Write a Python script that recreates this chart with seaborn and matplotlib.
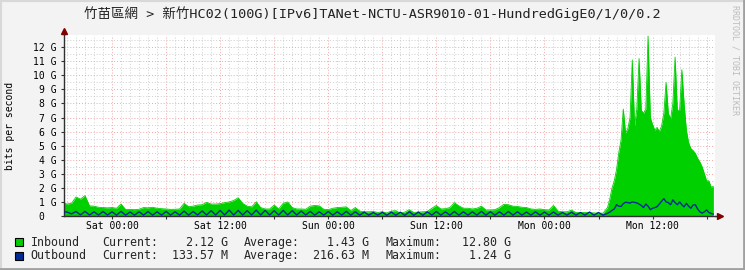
import numpy as np
import pandas as pd
import matplotlib
matplotlib.use("Agg")
import matplotlib.pyplot as plt
import seaborn as sns
from matplotlib.patches import Rectangle
from matplotlib.lines import Line2D
from matplotlib.ticker import MultipleLocator, FixedLocator, FixedFormatter

# ---------------- texts ----------------
title = "竹苗區網 > 新竹HC02(100G)[IPv6]TANet-NCTU-ASR9010-01-HundredGigE0/1/0/0.2"
y_label = "bits per second"
watermark = "RRDTOOL / TOBI OETIKER"
day_ticks = [0, 6, 12, 18, 24, 30, 36, 42, 48, 54, 60, 66]
day_labels = ["Sat 00:00", "", "Sat 12:00", "", "Sun 00:00", "", "Sun 12:00", "",
              "Mon 00:00", "", "Mon 12:00", ""]
y_ticks = [0, 1, 2, 3, 4, 5, 6, 7, 8, 9, 10, 11, 12]
y_labels = ["0  ", "1 G", "2 G", "3 G", "4 G", "5 G", "6 G", "7 G", "8 G", "9 G",
            "10 G", "11 G", "12 G"]

# ---------------- data (Gbit/s, hours relative to Sat 00:00) ----------------
start_flat = -5.5
step_flat = 0.5
inbound_flat = [
    0.95, 0.85, 0.9, 1.35, 1.2, 1.45, 0.72, 0.7, 0.62, 0.6, 0.58, 0.6,
    0.55, 0.85, 0.47, 0.47, 0.45, 0.48, 0.6, 0.58, 0.62, 0.55, 0.52, 0.5,
    0.47, 0.48, 0.5, 0.9, 0.66, 0.7, 0.78, 0.8, 0.97, 0.85, 0.85, 0.88,
    0.95, 1.0, 1.1, 1.3, 0.9, 0.7, 0.65, 1.0, 0.6, 0.5, 0.5, 0.78,
    0.5, 0.9, 1.0, 0.6, 0.5, 0.5, 0.48, 0.7, 0.75, 0.72, 0.48, 0.45,
    0.55, 0.6, 0.62, 0.65, 0.38, 0.6, 0.35, 0.3, 0.3, 0.32, 0.25, 0.3,
    0.22, 0.35, 0.38, 0.2, 0.28, 0.45, 0.25, 0.28, 0.3, 0.32, 0.55, 0.75,
    0.5, 0.52, 0.6, 0.95, 0.72, 0.55, 0.55, 0.5, 0.55, 0.7, 0.43, 0.43,
    0.45, 0.6, 0.83, 0.8, 0.7, 0.68, 0.62, 0.6, 0.5, 0.47, 0.5, 0.45,
    0.43, 0.75, 0.35, 0.3, 0.3, 0.42, 0.25, 0.24, 0.25, 0.23, 0.22, 0.2,
    0.2, 0.6,
]
outbound_flat = [
    0.30, 0.28, 0.15, 0.32, 0.08, 0.33, 0.07, 0.30, 0.07, 0.32, 0.07, 0.30,
    0.06, 0.33, 0.06, 0.28, 0.06, 0.30, 0.06, 0.32, 0.06, 0.30, 0.06, 0.33,
    0.06, 0.30, 0.06, 0.35, 0.06, 0.32, 0.07, 0.36, 0.07, 0.38, 0.07, 0.40,
    0.07, 0.42, 0.07, 0.40, 0.07, 0.38, 0.07, 0.42, 0.07, 0.40, 0.07, 0.38,
    0.07, 0.40, 0.07, 0.38, 0.07, 0.35, 0.07, 0.33, 0.06, 0.30, 0.06, 0.32,
    0.06, 0.30, 0.06, 0.33, 0.06, 0.30, 0.06, 0.28, 0.06, 0.25, 0.06, 0.27,
    0.05, 0.28, 0.05, 0.27, 0.05, 0.30, 0.05, 0.28, 0.05, 0.30, 0.06, 0.32,
    0.06, 0.30, 0.06, 0.32, 0.06, 0.30, 0.06, 0.30, 0.06, 0.33, 0.06, 0.30,
    0.06, 0.30, 0.06, 0.32, 0.06, 0.30, 0.06, 0.28, 0.06, 0.30, 0.06, 0.28,
    0.06, 0.28, 0.06, 0.25, 0.06, 0.27, 0.06, 0.25, 0.06, 0.28, 0.06, 0.25,
    0.06, 0.19,
]
start_peak = 55.25
step_peak = 0.25
inbound_peak = [
    1.2, 2.0, 2.5, 3.3, 4.5, 5.4, 7.6, 5.9, 6.2, 7.0, 11.1, 6.4,
    7.6, 11.2, 7.5, 7.3, 7.6, 12.8, 7.0, 6.5, 6.1, 6.3, 6.0, 6.4,
    7.3, 9.5, 7.3, 6.9, 8.0, 11.3, 7.5, 7.5, 10.4, 8.0, 6.1, 5.2,
    4.8, 4.65, 4.45, 4.1, 3.85, 3.5, 3.0, 2.5, 2.5, 2.05, 2.12,
]
outbound_peak = [
    0.28, 0.4, 0.5, 0.8, 0.7, 0.68, 0.88, 0.98, 0.95, 0.92, 1.0, 0.97,
    0.93, 0.85, 0.75, 0.6, 0.85, 0.7, 0.45, 0.55, 0.6, 0.66, 0.85, 1.05,
    1.24, 1.0, 0.95, 0.8, 1.15, 0.95, 0.8, 1.0, 0.8, 0.65, 0.9, 0.7,
    0.55, 0.78, 0.8, 0.5, 0.3, 0.2, 0.3, 0.43, 0.25, 0.18, 0.134,
]

legend_names = ["Inbound", "Outbound"]
legend_current = ["2.12 G", "133.57 M"]
legend_average = ["1.43 G", "216.63 M"]
legend_maximum = ["12.80 G", "1.24 G"]
series_colors = ["#00CF00", "#002A97"]

# ---------------- build frame ----------------
hours = np.concatenate([
    start_flat + step_flat * np.arange(len(inbound_flat)),
    start_peak + step_peak * np.arange(len(inbound_peak)),
])
df = pd.DataFrame({
    "hours": hours,
    "inbound": inbound_flat + inbound_peak,
    "outbound": outbound_flat + outbound_peak,
})

sns.set_theme(style="white")
plt.rcParams["font.family"] = ["DejaVu Sans Mono", "Noto Sans CJK TC"]

W, H = 745, 270
fig = plt.figure(figsize=(W / 100, H / 100), dpi=100, facecolor="#F3F3F3")
L, R, B, T = 64, 715, 216, 35
ax = fig.add_axes([L / W, 1 - B / H, (R - L) / W, (B - T) / H])
ax.set_facecolor("white")

green, blue = series_colors
ax.fill_between(df["hours"], 0, df["inbound"], color=green, lw=0, zorder=2)
sns.lineplot(data=df, x="hours", y="inbound", ax=ax, color=green, lw=0.6, zorder=2)
sns.lineplot(data=df, x="hours", y="outbound", ax=ax, color=blue, lw=1.0, zorder=3)

ax.set_xlim(-5.33, 66.93)
ax.set_ylim(0, 12.87)
ax.set_xlabel("")
ax.set_ylabel("")

ax.xaxis.set_major_locator(FixedLocator(day_ticks))
ax.xaxis.set_major_formatter(FixedFormatter(day_labels))
ax.xaxis.set_minor_locator(MultipleLocator(1))
ax.yaxis.set_major_locator(FixedLocator(y_ticks))
ax.yaxis.set_major_formatter(FixedFormatter(y_labels))
ax.yaxis.set_minor_locator(MultipleLocator(0.5))

ax.set_axisbelow(True)
ax.grid(which="minor", color="#CFCFCF", ls=(0, (1, 2)), lw=0.7)
ax.grid(which="major", color="#F2A6A6", ls=(0, (1, 2)), lw=0.7)

for s in ("top", "right"):
    ax.spines[s].set_visible(False)
for s in ("left", "bottom"):
    ax.spines[s].set_color("#303030")
    ax.spines[s].set_linewidth(1.0)

ax.tick_params(axis="both", which="major", length=2, width=0.8, color="#303030",
               labelsize=7, labelcolor="#000000")
ax.tick_params(axis="both", which="minor", length=0)
ax.tick_params(axis="x", pad=1.5)
ax.tick_params(axis="y", pad=3.3)
ax.tick_params(axis="x", which="major", bottom=True)
ax.tick_params(axis="y", which="major", left=True)

# axis arrows
ax.plot([1.0, 1.008], [0, 0], transform=ax.transAxes, color="#303030", lw=1.0, clip_on=False)
ax.plot([1.008], [0], transform=ax.transAxes, marker=">", ms=4.5, color="#800000",
        mec="#800000", clip_on=False)
ax.plot([0, 0], [1.0, 1.02], transform=ax.transAxes, color="#303030", lw=1.0, clip_on=False)
ax.plot([0], [1.02], transform=ax.transAxes, marker="^", ms=4.5, color="#800000",
        mec="#800000", clip_on=False)

# texts
fig.text(372 / W, 1 - 14 / H, title, ha="center", va="center", fontsize=9.7, color="#222222")
fig.text(10.5 / W, 1 - 126 / H, y_label, rotation=90, ha="center", va="center",
         fontsize=7, color="#000000")
fig.text(735.5 / W, 1 - 60 / H, watermark, rotation=270, ha="center", va="center",
         fontsize=6, color="#BDBDBD")

row_y = [242.3, 255.7]
for i in range(2):
    y = 1 - row_y[i] / H
    fig.add_artist(Rectangle((15 / W, 1 - (row_y[i] + 4) / H), 8 / W, 8 / H,
                             transform=fig.transFigure, facecolor=series_colors[i],
                             edgecolor="black", lw=0.8))
    fs = 8.4
    fig.text(30.7 / W, y, legend_names[i], ha="left", va="center", fontsize=fs)
    fig.text(102.3 / W, y, "Current:", ha="left", va="center", fontsize=fs)
    fig.text(227.7 / W, y, legend_current[i], ha="right", va="center", fontsize=fs)
    fig.text(243.3 / W, y, "Average:", ha="left", va="center", fontsize=fs)
    fig.text(368.6 / W, y, legend_average[i], ha="right", va="center", fontsize=fs)
    fig.text(386 / W, y, "Maximum:", ha="left", va="center", fontsize=fs)
    fig.text(511 / W, y, legend_maximum[i], ha="right", va="center", fontsize=fs)

# 3D-ish frame around the image
fig.add_artist(Line2D([0, 1], [1 - 0.5 / H, 1 - 0.5 / H], transform=fig.transFigure, color="#D8D8D8", lw=1.5))
fig.add_artist(Line2D([0.5 / W, 0.5 / W], [0, 1], transform=fig.transFigure, color="#D8D8D8", lw=1.5))
fig.add_artist(Line2D([0, 1], [1.0 / H, 1.0 / H], transform=fig.transFigure, color="#A0A0A0", lw=2))
fig.add_artist(Line2D([1 - 1.0 / W, 1 - 1.0 / W], [0, 1], transform=fig.transFigure, color="#A0A0A0", lw=2))

fig.savefig("out.png", dpi=100, facecolor=fig.get_facecolor())
